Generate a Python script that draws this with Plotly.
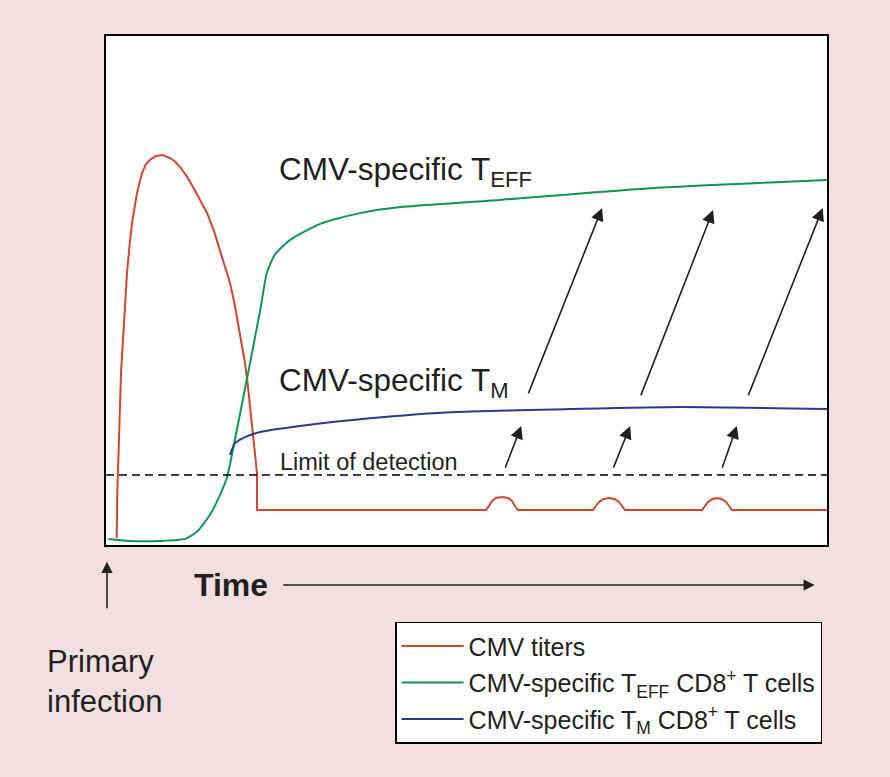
import plotly.graph_objects as go

# ---- data (arbitrary units: time 0-100, level 0-100) ----
cmv_x = [1.48, 1.57, 1.80, 2.08, 2.50, 2.91, 3.25, 3.61, 4.30, 4.99, 5.55, 6.24, 6.93, 7.86,
         8.88, 9.60, 10.26, 11.20, 12.07, 13.05, 14.01, 14.95, 15.81, 16.55, 17.20, 17.80, 18.31,
         18.82, 19.28, 19.66, 19.97, 20.27, 20.53, 20.76, 20.94, 20.94,
         52.70, 53.12, 53.54, 54.09, 54.92, 55.76, 56.31, 56.73, 57.14,
         67.55, 67.96, 68.38, 68.93, 69.76, 70.60, 71.15, 71.57, 71.98,
         82.66, 83.08, 83.50, 84.05, 84.74, 85.44, 85.99, 86.41, 86.82,
         100]
cmv_y = [1.38, 10.81, 20.63, 33.79, 43.61, 53.44, 58.60, 63.26, 69.16, 73.08, 74.85, 75.83, 76.42, 76.62,
         76.03, 75.30, 74.26, 72.45, 70.33, 67.90, 65.23, 61.80, 57.96, 54.70, 51.47, 47.60, 43.61,
         39.70, 35.76, 31.50, 27.11, 23.90, 20.63, 17.30, 14.15, 6.88,
         6.88, 7.66, 8.64, 9.23, 9.43, 9.23, 8.64, 7.66, 6.88,
         6.88, 7.66, 8.45, 9.00, 9.23, 9.00, 8.45, 7.66, 6.88,
         6.88, 7.66, 8.45, 9.00, 9.23, 9.00, 8.45, 7.66, 6.88,
         6.88]

teff_x = [0.3, 3.3, 7.5, 11.0, 12.6, 14.4, 15.8, 16.8, 17.6, 19.6, 21.4, 22.3, 23.4, 25.5, 29.7, 35.2, 40.8, 54.6, 75.5, 100]
teff_y = [1.2, 0.8, 0.8, 1.2, 2.6, 5.9, 9.8, 13.4, 18.7, 33.0, 46.2, 53.4, 57.0, 59.9, 63.1, 65.2, 66.4, 67.8, 70.1, 71.7]

tm_x = [17.2, 17.9, 19.3, 21.4, 26.9, 36.6, 47.7, 64.4, 79.6, 100]
tm_y = [17.7, 20.0, 21.2, 22.2, 23.4, 24.9, 26.1, 26.7, 27.1, 26.7]

detection_limit = 13.75

# reactivation arrows: (tail x, tail y, head x, head y)
long_arrows = [(58.5, 29.5, 68.8, 66.2), (74.1, 29.1, 84.2, 65.8), (89.0, 29.1, 99.4, 66.2)]
short_arrows = [(55.3, 14.9, 57.6, 23.4), (70.3, 14.9, 72.7, 23.4), (85.4, 14.9, 87.5, 23.4)]

series_names = ["CMV titers",
                "CMV-specific T<sub>EFF</sub> CD8<sup>+</sup> T cells",
                "CMV-specific T<sub>M</sub> CD8<sup>+</sup> T cells"]
colors = ["#d4452f", "#109558", "#2b3a8c"]
line_shapes = ["linear", "spline", "spline"]

FONT = "Liberation Sans, Arial, sans-serif"
TXT = "#231f20"
BG = "#f1e0df"

fig = go.Figure()
for i, (xs, ys) in enumerate([(cmv_x, cmv_y), (teff_x, teff_y), (tm_x, tm_y)]):
    fig.add_trace(go.Scatter(x=xs, y=ys, mode="lines", name=series_names[i],
                             legendgroup=f"g{i}",
                             line=dict(color=colors[i], width=2, shape=line_shapes[i], smoothing=0.6)))

fig.add_shape(type="line", xref="x", yref="y", x0=0, x1=100, y0=detection_limit, y1=detection_limit,
              line=dict(color="black", width=1.6, dash="8px,5px"))

annotations = []
for (tx, ty, hx, hy) in long_arrows + short_arrows:
    annotations.append(dict(x=hx, y=hy, ax=tx, ay=ty, xref="x", yref="y", axref="x", ayref="y",
                            text="", showarrow=True, arrowhead=2, arrowsize=1.6, arrowwidth=1.6,
                            arrowcolor=TXT, standoff=0))

annotations += [
    dict(x=23.7, y=73.3, xref="x", yref="y", xanchor="left", yanchor="middle", showarrow=False,
         text="CMV-specific T<sub>EFF</sub>", font=dict(size=31.5, color=TXT, family=FONT)),
    dict(x=23.7, y=32.0, xref="x", yref="y", xanchor="left", yanchor="middle", showarrow=False,
         text="CMV-specific T<sub>M</sub>", font=dict(size=31.5, color=TXT, family=FONT)),
    dict(x=23.9, y=16.3, xref="x", yref="y", xanchor="left", yanchor="middle", showarrow=False,
         text="Limit of detection", font=dict(size=23.5, color=TXT, family=FONT)),
    dict(x=0.119, y=-0.0786, xref="paper", yref="paper", xanchor="left", yanchor="middle", showarrow=False,
         text="<b>Time</b>", font=dict(size=32, color=TXT, family=FONT)),
    dict(x=0.983, y=-0.0786, xref="paper", yref="paper", axref="pixel", ayref="pixel", ax=-533, ay=0,
         text="", showarrow=True, arrowhead=2, arrowsize=1.4, arrowwidth=1.6, arrowcolor=TXT, standoff=0),
    dict(x=0.0014, y=-0.033, xref="paper", yref="paper", axref="pixel", ayref="pixel", ax=0, ay=48,
         text="", showarrow=True, arrowhead=2, arrowsize=1.4, arrowwidth=1.6, arrowcolor=TXT, standoff=0),
    dict(x=-0.084, y=-0.269, xref="paper", yref="paper", xanchor="left", yanchor="middle", showarrow=False,
         align="left", text="Primary<br>infection", font=dict(size=31, color=TXT, family=FONT)),
]

axis_common = dict(showgrid=False, zeroline=False, showticklabels=False, ticks="",
                   showline=True, mirror=True, linecolor="black", linewidth=2)

fig.update_layout(
    width=890, height=777,
    margin=dict(l=106, r=63, t=36, b=232),
    paper_bgcolor=BG, plot_bgcolor="white",
    xaxis=dict(range=[0, 100], **axis_common),
    yaxis=dict(range=[0, 100], **axis_common),
    font=dict(family=FONT, color=TXT),
    annotations=annotations,
    showlegend=True,
    legend=dict(x=0.401, y=-0.151, xanchor="left", yanchor="top",
                bgcolor="white", bordercolor="black", borderwidth=1.5,
                font=dict(size=25, color=TXT, family=FONT),
                tracegroupgap=1, itemwidth=62),
)

fig.write_html("out.html", config={"displayModeBar": False},
               post_script="document.body.style.margin='0';document.body.style.background='" + BG + "';")
